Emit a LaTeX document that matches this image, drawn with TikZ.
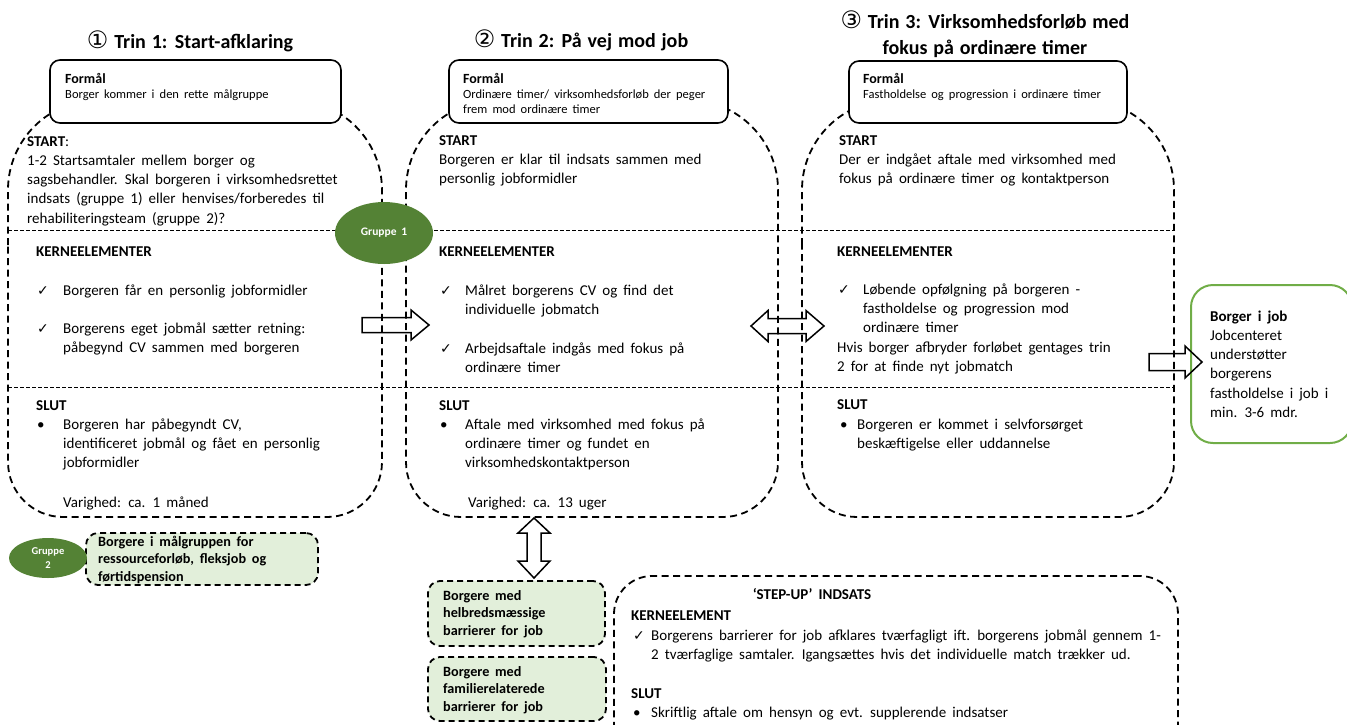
\documentclass[tikz,border=0pt]{standalone}
\usepackage{fontspec}
\setmainfont[WordSpace=1.8]{Carlito}
\newfontfamily\ttlfont[WordSpace=1.3]{Carlito}
\newfontfamily\symfont{DejaVu Sans}
\usetikzlibrary{shapes.geometric}
\definecolor{dgreen}{HTML}{548235}
\definecolor{lgreen}{HTML}{E2EFDA}
\definecolor{bgreen}{HTML}{70AD47}
\newcommand{\fb}{\fontsize{15}{19.3}\selectfont}
\newcommand{\ls}[1]{\begin{tabular}[t]{@{}l@{}}#1\end{tabular}}
\newcommand{\lc}[1]{\begin{tabular}[t]{@{}c@{}}#1\end{tabular}}
\newcommand{\ck}{{\symfont\fontsize{14}{15}\selectfont ✓}}
\newcommand{\cnum}[1]{{\symfont\mdseries\fontsize{24}{26}\selectfont #1}}
\tikzset{
  txt/.style={anchor=base west, inner sep=0pt, font=\fb},
  hd/.style={anchor=base west, inner sep=0pt, font=\fb\bfseries},
  ttl/.style={anchor=base, inner sep=0pt, font=\ttlfont\fontsize{20}{26}\selectfont\bfseries},
  ftxt/.style={anchor=base west, inner sep=0pt, font=\fontsize{12.5}{15}\selectfont},
  fhd/.style={anchor=base west, inner sep=0pt, font=\fontsize{14}{15}\selectfont\bfseries},
  gtxt/.style={anchor=base west, inner sep=0pt, font=\fontsize{14.2}{17.5}\selectfont\bfseries},
  colbox/.style={draw, line width=1.8pt, dash pattern=on 7pt off 4.5pt},
  sepline/.style={draw, line width=0.9pt, dash pattern=on 3.5pt off 2.5pt},
  formbox/.style={draw, fill=white, line width=1.6pt, rounded corners=10pt, inner sep=0pt},
  grbox/.style={draw, fill=lgreen, line width=1.8pt, dash pattern=on 6pt off 4pt, rounded corners=12pt, inner sep=0pt},
  stepbox/.style={draw, line width=1.8pt, dash pattern=on 7pt off 4.5pt, rounded corners=38pt, inner sep=0pt},
  jobbox/.style={draw=bgreen, line width=2pt, rounded corners=22pt, inner sep=0pt},
  blockarrow/.style={draw, line width=1.5pt, line join=miter},
  grp/.style={ellipse, fill=dgreen, text=white, inner sep=0pt, align=center},
}
\begin{document}
\begin{tikzpicture}[x=1pt, y=-1pt]
\useasboundingbox (0,0) rectangle (1347,724);

% column frames
\draw[colbox] (8,300) [rounded corners=90pt] -- (8,100) -- (382,100) -- (382,300) [rounded corners=55pt] -- (382,517) -- (8,517) -- cycle;
\draw[colbox] (406,300) [rounded corners=90pt] -- (406,100) -- (778,100) -- (778,300) [rounded corners=55pt] -- (778,517) -- (406,517) -- cycle;
\draw[colbox] (802,300) [rounded corners=90pt] -- (802,100) -- (1174,100) -- (1174,300) [rounded corners=55pt] -- (1174,517) -- (802,517) -- cycle;
\coordinate (sepA1) at (8,230); \coordinate (sepA2) at (1174,230);
\coordinate (sepB1) at (8,387); \coordinate (sepB2) at (1174,387);
\draw[sepline] (sepA1) -- (sepA2);
\draw[sepline] (sepB1) -- (sepB2);

% titles
\node[ttl] (t1) at (190,48) {\cnum{①} Trin 1: Start-afklaring};
\node[ttl] (t2) at (581,47) {\cnum{②} Trin 2: På vej mod job};
\node[ttl] (t3) at (985,28) {\lc{\cnum{③} Trin 3: Virksomhedsforløb med\\fokus på ordinære timer}};

% Formål boxes
\node[formbox, minimum width=291pt, minimum height=63pt] (f1) at (195.5,91.5) {};
\node[formbox, minimum width=279pt, minimum height=63pt] (f2) at (588.5,91.5) {};
\node[formbox, minimum width=278pt, minimum height=62pt] (f3) at (988,92) {};
\node[fhd] (f1h) at (65,83) {Formål};
\node[ftxt] (f1t) at (65,98) {Borger kommer i den rette målgruppe};
\node[fhd] (f2h) at (463,83) {Formål};
\node[ftxt] (f2t) at (463,98) {\ls{Ordinære timer/ virksomhedsforløb der peger\\frem mod ordinære timer}};
\node[fhd] (f3h) at (863,83) {Formål};
\node[ftxt] (f3t) at (863,98) {Fastholdelse og progression i ordinære timer};

% column 1
\node[txt] (c1s) at (27,146) {\ls{\textbf{START}:\\1-2 Startsamtaler mellem borger og\\sagsbehandler. Skal borgeren i virksomhedsrettet\\indsats (gruppe 1) eller henvises/forberedes til\\rehabiliteringsteam (gruppe 2)?}};
\node[hd] (c1k) at (36,256) {KERNEELEMENTER};
\node[txt] (c1c1) at (37,295) {\ck};
\node[txt] (c1k1) at (63,295) {Borgeren får en personlig jobformidler};
\node[txt] (c1c2) at (37,333) {\ck};
\node[txt] (c1k2) at (63,333) {\ls{Borgerens eget jobmål sætter retning:\\påbegynd CV sammen med borgeren}};
\node[hd] (c1e) at (36,410) {SLUT};
\node[txt] (c1b) at (37,429) {•};
\node[txt] (c1e1) at (63,429) {\ls{Borgeren har påbegyndt CV,\\identificeret jobmål og fået en personlig\\jobformidler}};
\node[txt] (c1v) at (63,507) {Varighed: ca. 1 måned};

% column 2
\node[txt] (c2s) at (439,145) {\ls{\textbf{START}\\Borgeren er klar til indsats sammen med\\personlig jobformidler}};
\node[hd] (c2k) at (439,256) {KERNEELEMENTER};
\node[txt] (c2c1) at (440,295) {\ck};
\node[txt] (c2k1) at (465,295) {\ls{Målret borgerens CV og find det\\individuelle jobmatch}};
\node[txt] (c2c2) at (440,353) {\ck};
\node[txt] (c2k2) at (465,353) {\ls{Arbejdsaftale indgås med fokus på\\ordinære timer}};
\node[hd] (c2e) at (439,410) {SLUT};
\node[txt] (c2b) at (440,429) {•};
\node[txt] (c2e1) at (465,429) {\ls{Aftale med virksomhed med fokus på\\ordinære timer og fundet en\\virksomhedskontaktperson}};
\node[txt] (c2v) at (468,507) {Varighed: ca. 13 uger};

% column 3
\node[txt] (c3s) at (839,145) {\ls{\textbf{START}\\Der er indgået aftale med virksomhed med\\fokus på ordinære timer og kontaktperson}};
\node[hd] (c3k) at (837,256) {KERNEELEMENTER};
\node[txt] (c3c1) at (838,294) {\ck};
\node[txt] (c3k1) at (863,294) {\ls{Løbende opfølgning på borgeren -\\fastholdelse og progression mod\\ordinære timer}};
\node[txt] (c3k2) at (837,352) {\ls{Hvis borger afbryder forløbet gentages trin\\2 for at finde nyt jobmatch}};
\node[hd] (c3e) at (837,409) {SLUT};
\node[txt] (c3b) at (840,429) {•};
\node[txt] (c3e1) at (857,429) {\ls{Borgeren er kommet i selvforsørget\\beskæftigelse eller uddannelse}};

% Borger i job
\node[jobbox, minimum width=161pt, minimum height=158pt] (job) at (1271.5,364) {};
\node[txt] (jobt) at (1210,321) {\ls{\textbf{Borger i job}\\Jobcenteret\\understøtter\\borgerens\\fastholdelse i job i\\min. 3-6 mdr.}};

% groups
\node[grp, minimum width=98pt, minimum height=62pt, font=\fontsize{11.5}{13}\selectfont\bfseries] (g1) at (384,233) {Gruppe 1};
\node[grbox, minimum width=232pt, minimum height=52pt] (g2box) at (202,559) {};
\node[grp, minimum width=78pt, minimum height=40pt, font=\fontsize{10.5}{14}\selectfont\bfseries] (g2) at (48,558) {Gruppe\\2};
\node[gtxt] (g2t) at (98,546) {\ls{Borgere i målgruppen for\\ressourceforløb, fleksjob og\\førtidspension}};

\node[grbox, minimum width=177pt, minimum height=65pt] (hb) at (516.5,613.5) {};
\node[gtxt] (hbt) at (443,600) {\ls{Borgere med\\helbredsmæssige\\barrierer for job}};
\node[grbox, minimum width=178pt, minimum height=64pt] (fb) at (517,689) {};
\node[gtxt] (fbt) at (443,676) {\ls{Borgere med\\familierelaterede\\barrierer for job}};

% step-up
\node[stepbox, minimum width=564pt, minimum height=194pt] (su) at (896,673) {};
\node[hd, anchor=base] (sut) at (812,599) {‘STEP-UP’ INDSATS};
\node[hd] (suk) at (631,620) {KERNEELEMENT};
\node[txt] (suc) at (633,640) {\ck};
\node[txt] (suk1) at (651,640) {\ls{Borgerens barrierer for job afklares tværfagligt ift. borgerens jobmål gennem 1-\\2 tværfaglige samtaler. Igangsættes hvis det individuelle match trækker ud.}};
\node[hd] (sue) at (631,698) {SLUT};
\node[txt] (sub) at (633,717) {•};
\node[txt] (sue1) at (651,717) {Skriftlig aftale om hensyn og evt. supplerende indsatser};

% block arrows
\draw[blockarrow] (362,317.5) -- (411,317.5) -- (411,310) -- (429,325) -- (411,340) -- (411,332.5) -- (362,332.5) -- cycle;
\draw[blockarrow] (751,326) -- (768,310.5) -- (768,318.5) -- (806,318.5) -- (806,310.5) -- (824,326) -- (806,341.5) -- (806,333.5) -- (768,333.5) -- (768,341.5) -- cycle;
\draw[blockarrow] (1149,353.5) -- (1185,353.5) -- (1185,346) -- (1202,362) -- (1185,378) -- (1185,370.5) -- (1149,370.5) -- cycle;
\draw[blockarrow] (534,518) -- (550,533) -- (541,533) -- (541,561) -- (550,561) -- (534,578) -- (518,561) -- (527,561) -- (527,533) -- (518,533) -- cycle;
\end{tikzpicture}
\end{document}
